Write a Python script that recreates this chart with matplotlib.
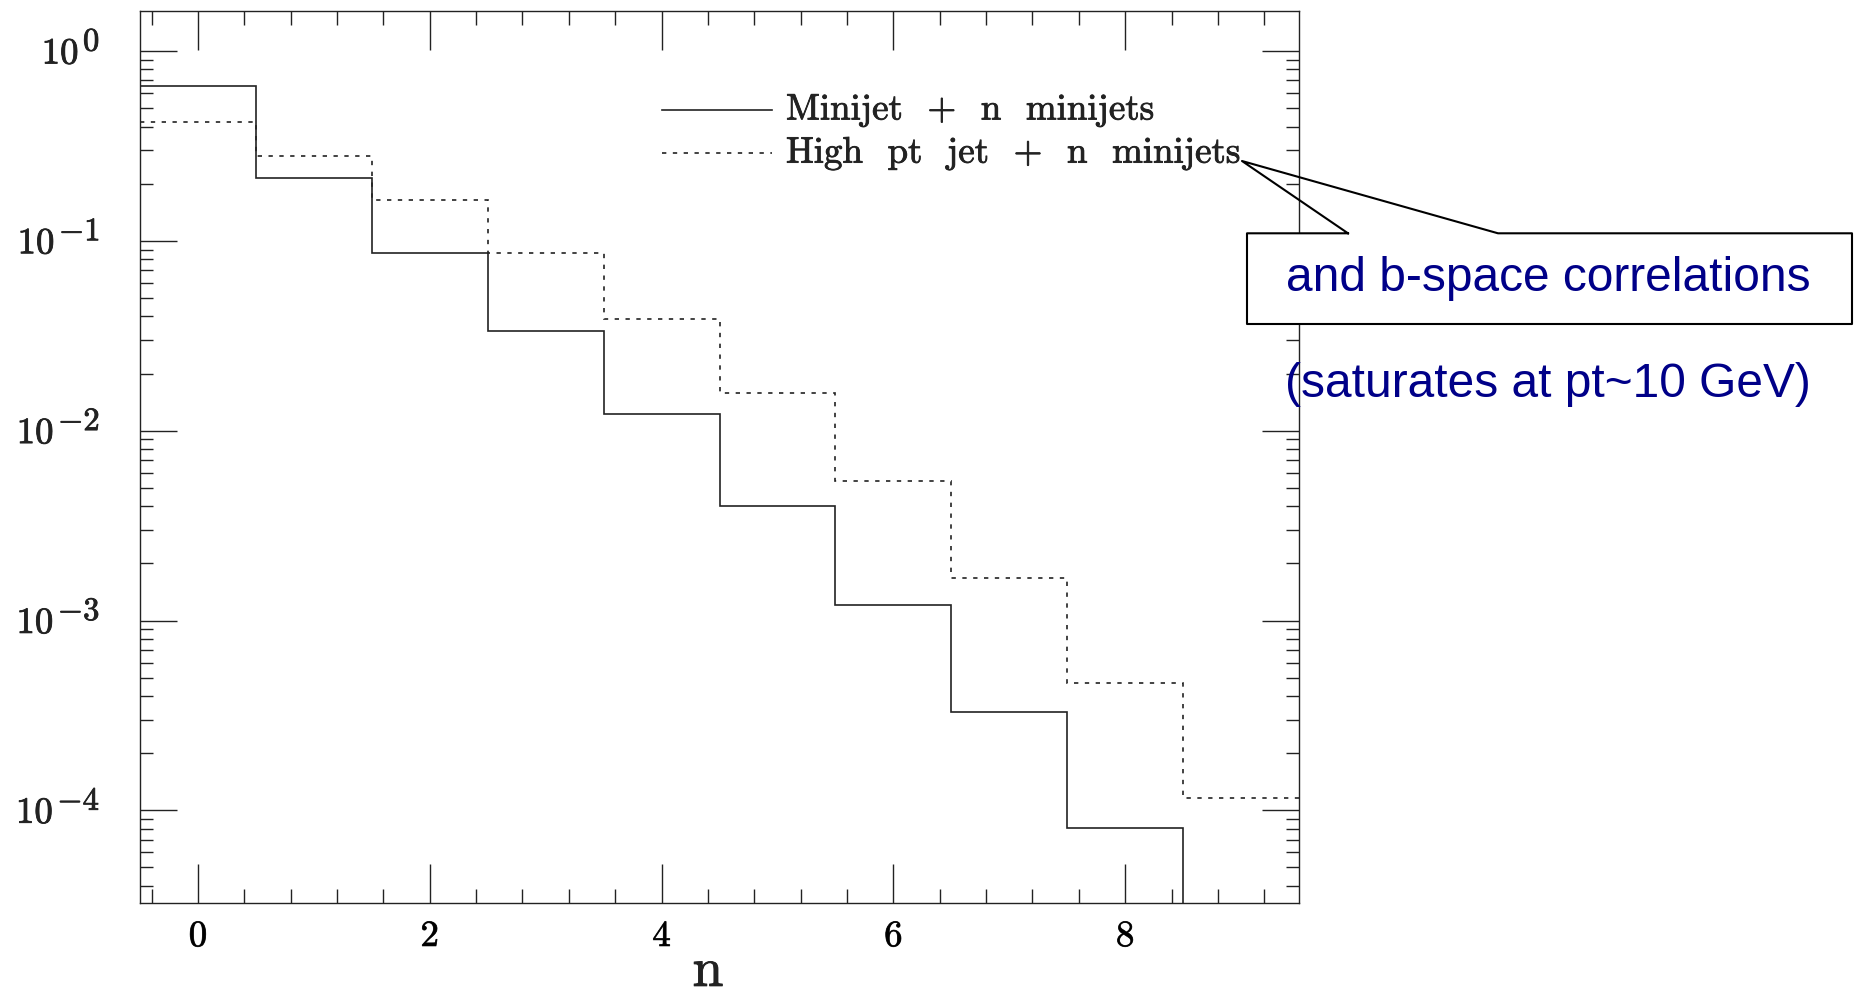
import numpy as np
import matplotlib
matplotlib.use("Agg")
import matplotlib.pyplot as plt
import matplotlib.patheffects as pe
from matplotlib.ticker import MultipleLocator, LogLocator, NullFormatter
from matplotlib.patches import Rectangle
from matplotlib.lines import Line2D

plt.rcParams['mathtext.fontset'] = 'cm'
plt.rcParams['axes.formatter.use_mathtext'] = True

# multiplicity n and probabilities
n_solid = np.arange(0, 9)
p_solid = [0.654, 0.214, 0.086, 0.0334, 0.0122, 0.00403, 0.0012, 3.3e-4, 8.1e-5]
n_dash = np.arange(0, 10)
p_dash = [0.425, 0.279, 0.165, 0.0865, 0.039, 0.0158, 0.00544, 0.00168, 4.68e-4, 1.16e-4]

label_solid = "Minijet  +  n  minijets"
label_dash = "High  pt  jet  +  n  minijets"
xticks = [0, 2, 4, 6, 8]
ydecades = [0, -1, -2, -3, -4]
note1 = "and b-space correlations"
note2 = "(saturates at pt~10 GeV)"

W, H = 1863, 997
fig = plt.figure(figsize=(W / 100, H / 100), dpi=100)
ax = fig.add_axes([140 / W, 1 - 903 / H, (1299 - 140) / W, (903 - 11.3) / H])

ink = '#222222'
dash = (0, (2.6, 3.9))
# slightly heavier glyphs, like the bitmap fonts of the original
heavy = [pe.withStroke(linewidth=0.6, foreground=ink)]

ax.stairs(p_solid, np.append(n_solid - 0.5, n_solid[-1] + 0.5), baseline=1e-7,
          color=ink, lw=1.2)
ax.stairs(p_dash, np.append(n_dash - 0.5, n_dash[-1] + 0.5), baseline=None,
          color=ink, lw=1.2, linestyle=dash)

ax.set_yscale('log')
ax.set_xlim(-0.5, 9.5)
ax.set_ylim(3.25e-5, 1.62)

ax.set_xticks(xticks)
ax.set_xticklabels([str(t) for t in xticks], fontfamily='cmr10', fontsize=26.5)
for t in ax.get_xticklabels():
    t.set_path_effects(heavy)
ax.xaxis.set_minor_locator(MultipleLocator(0.4))
ax.yaxis.set_major_locator(LogLocator(base=10))
ax.yaxis.set_minor_locator(LogLocator(base=10, subs=np.arange(2, 10)))
ax.yaxis.set_major_formatter(NullFormatter())
ax.yaxis.set_minor_formatter(NullFormatter())

ax.tick_params(which='both', direction='in', top=True, right=True, color=ink, width=1.0)
ax.tick_params(axis='x', which='major', length=28, pad=12)
ax.tick_params(axis='x', which='minor', length=10)
ax.tick_params(axis='y', which='major', length=26.5)
ax.tick_params(axis='y', which='minor', length=9.5)
for s in ax.spines.values():
    s.set_color(ink)
    s.set_linewidth(1.0)

# y tick labels: 10 with a large exponent
renderer = fig.canvas.get_renderer()
ytrans = ax.get_yaxis_transform()
for e in ydecades:
    sup = ax.annotate(r'$%d$' % e, xy=(0, 10.0 ** e), xycoords=ytrans,
                      xytext=(-40, 10), textcoords='offset pixels',
                      ha='right', va='center', fontsize=23.5, color=ink,
                      path_effects=heavy)
    w = sup.get_window_extent(renderer).width
    ax.annotate(r'$10$', xy=(0, 10.0 ** e), xycoords=ytrans,
                xytext=(-40 - w - 4, -2), textcoords='offset pixels',
                ha='right', va='center', fontsize=26.5, color=ink,
                path_effects=heavy)

ax.set_xlabel('n', fontfamily='cmr10', fontsize=40, color=ink)
ax.xaxis.label.set_va('baseline')
ax.xaxis.label.set_path_effects(heavy)
ax.xaxis.set_label_coords(0.49, -0.093)

# legend drawn in axes coordinates
for y, lab, ls in [(0.8895, label_solid, '-'), (0.8411, label_dash, dash)]:
    ax.plot([0.4504, 0.5453], [y, y], transform=ax.transAxes, color=ink, lw=1.2, linestyle=ls)
    ax.text(0.5574, y, lab, transform=ax.transAxes, fontfamily='cmr10', fontsize=26.6,
            ha='left', va='center', color=ink, path_effects=heavy)

# callout box
def fx(x, y):
    return x / W, 1 - y / H

bx0, bx1, by0, by1 = 1247, 1852, 233.3, 324
fig.add_artist(Rectangle(fx(bx0, by1), (bx1 - bx0) / W, (by1 - by0) / H,
                         transform=fig.transFigure, facecolor='white', edgecolor='none', zorder=5))
outline = [(1348, by0), (bx0, by0), (bx0, by1), (bx1, by1), (bx1, by0), (1498, by0),
           (1242, 161), (1348, by0)]
xs, ys = zip(*[fx(x, y) for x, y in outline])
fig.add_artist(Line2D(xs, ys, transform=fig.transFigure, color='black', lw=1.5, zorder=6))

navy = '#000088'
fig.text(*fx(1548, 291), note1, ha='center', va='baseline', fontsize=34.5,
         family='Liberation Sans', color=navy, zorder=7)
fig.text(*fx(1548, 397), note2, ha='center', va='baseline', fontsize=34.5,
         family='Liberation Sans', color=navy, zorder=7)

fig.savefig('out.png', dpi=100, facecolor='white')
